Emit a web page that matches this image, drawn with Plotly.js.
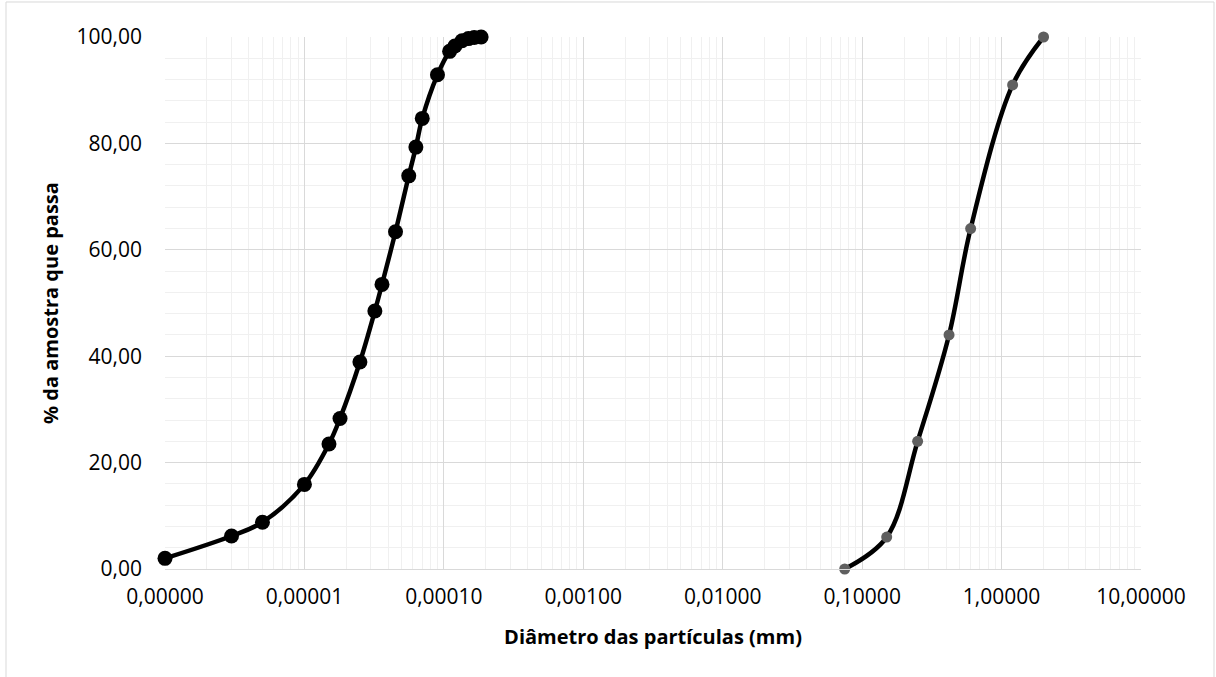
<!DOCTYPE html>
<html>
<head>
<meta charset="utf-8">
<script src="https://cdn.plot.ly/plotly-3.0.1.min.js"></script>
<style>
  html, body { margin: 0; padding: 0; background: #ffffff; }
  #chart { width: 1216px; height: 677px; }
</style>
</head>
<body>
<div id="chart"></div>
<script>
// Fine fraction (sedimentation) – diameter in mm, % passing
const fineDiam = [0.000001, 0.000003, 0.000005, 0.00001, 0.000015, 0.000018, 0.000025, 0.000032, 0.000036, 0.000045, 0.000056, 0.000063, 0.00007, 0.00009, 0.00011, 0.00012, 0.000135, 0.00015, 0.000165, 0.000185];
const finePass = [2.0, 6.2, 8.8, 15.9, 23.5, 28.3, 38.9, 48.5, 53.5, 63.4, 73.9, 79.3, 84.7, 92.9, 97.3, 98.3, 99.3, 99.7, 99.9, 100.0];

// Coarse fraction (sieving) – diameter in mm, % passing
const coarseDiam = [0.075, 0.15, 0.25, 0.42, 0.6, 1.2, 2.0];
const coarsePass = [0.0, 6.0, 24.0, 44.0, 64.0, 91.0, 100.0];

// Axis ticks
const xTickVals = [0.000001, 0.00001, 0.0001, 0.001, 0.01, 0.1, 1, 10];
const xTickText = ["0,00000", "0,00001", "0,00010", "0,00100", "0,01000", "0,10000", "1,00000", "10,00000"];
const yTickVals = [0, 20, 40, 60, 80, 100];
const yTickText = ["0,00", "20,00", "40,00", "60,00", "80,00", "100,00"];

const xMinor = [];
for (let e = -6; e < 1; e++) {
  for (let m = 2; m <= 9; m++) xMinor.push(m * Math.pow(10, e));
}

const traces = [
  {
    x: fineDiam, y: finePass, type: 'scatter', mode: 'lines+markers',
    line: { color: '#000000', width: 4.5, shape: 'spline', smoothing: 1 },
    marker: { color: '#000000', size: 15 },
    cliponaxis: false,
    hoverinfo: 'x+y', showlegend: false
  },
  {
    x: coarseDiam, y: coarsePass, type: 'scatter', mode: 'lines+markers',
    line: { color: '#000000', width: 4.5, shape: 'spline', smoothing: 1 },
    marker: { color: '#5f5f5f', size: 11 },
    cliponaxis: false,
    hoverinfo: 'x+y', showlegend: false
  }
];

const font = "'Open Sans', 'Noto Sans', sans-serif";

const layout = {
  width: 1216, height: 677,
  margin: { l: 165, r: 75, t: 37, b: 108 },
  paper_bgcolor: '#ffffff', plot_bgcolor: '#ffffff',
  font: { family: font, size: 21, color: '#000000' },
  showlegend: false,
  xaxis: {
    type: 'log',
    range: [-6, 1],
    tickvals: xTickVals, ticktext: xTickText,
    tickfont: { family: font, size: 21, color: '#000000' },
    showgrid: true, gridcolor: '#d9d9d9', gridwidth: 1,
    showline: true, linecolor: '#d9d9d9', linewidth: 1,
    ticks: '', ticklabelstandoff: 9,
    zeroline: false,
    minor: { tickvals: xMinor, showgrid: true, gridcolor: '#f0f0f0', gridwidth: 1, ticks: '' },
    title: { text: '<b>Diâmetro das partículas (mm)</b>', font: { family: font, size: 20, color: '#000000' }, standoff: 20 }
  },
  yaxis: {
    range: [0, 100],
    tickvals: yTickVals, ticktext: yTickText,
    tickfont: { family: font, size: 21, color: '#000000' },
    showgrid: true, gridcolor: '#d9d9d9', gridwidth: 1,
    showline: false,
    ticks: '', ticklabelstandoff: 22,
    zeroline: false,
    minor: { dtick: 4, showgrid: true, gridcolor: '#f0f0f0', gridwidth: 1, ticks: '' },
    title: { text: '<b>% da amostra que passa</b>', font: { family: font, size: 20, color: '#000000' }, standoff: 12 }
  },
  shapes: [
    {
      type: 'rect', xref: 'paper', yref: 'paper', layer: 'below',
      x0: -0.1629, x1: 1.0748, y0: -0.25, y1: 1.0658,
      line: { color: '#d9d9d9', width: 1 }, fillcolor: 'rgba(0,0,0,0)'
    }
  ]
};

Plotly.newPlot('chart', traces, layout, { displayModeBar: false, staticPlot: true });
</script>
</body>
</html>
